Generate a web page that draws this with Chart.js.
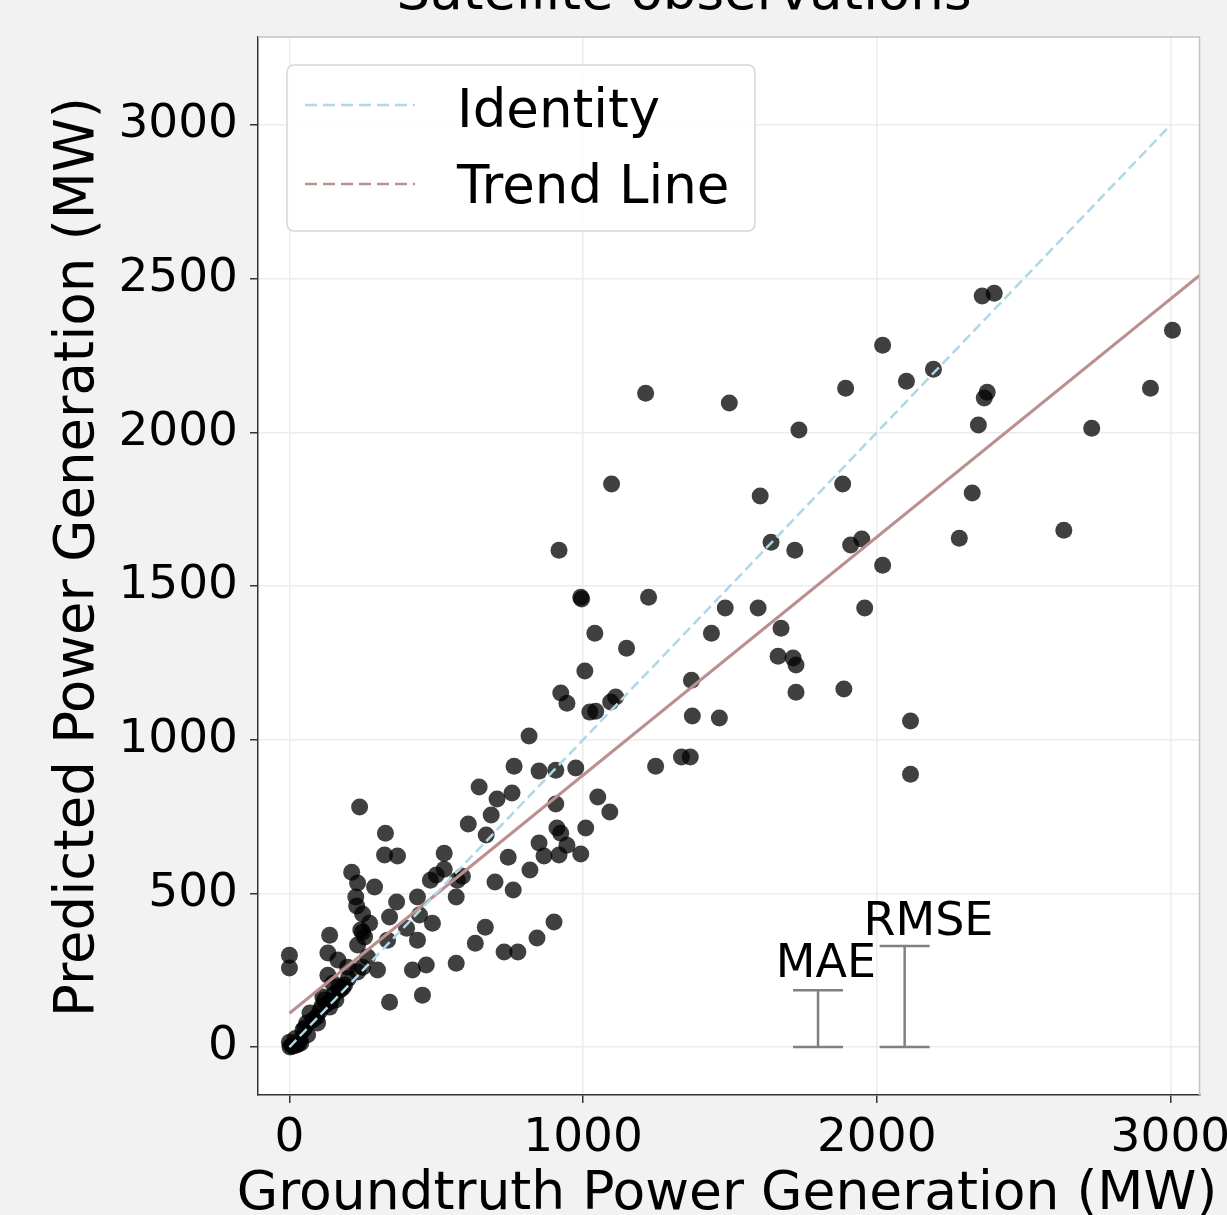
<!DOCTYPE html>
<html>
<head>
<meta charset="utf-8">
<script src="https://cdn.jsdelivr.net/npm/chart.js@4.4.1/dist/chart.umd.min.js"></script>
<style>
  html, body { margin: 0; padding: 0; background: #f2f2f2; }
</style>
</head>
<body>
<canvas id="scatterChart" width="1227" height="1215"></canvas>
<script>
// Groundtruth (x) vs predicted (y) power generation, MW
const groundtruth = [
  2359, 2400, 3007, 2020, 2193, 2101, 1894, 2932, 2376, 2366, 1213, 1498, 1735, 2346, 2732,
  1097, 1884, 1603, 2325, 2281, 2637, 1640, 1911, 1949, 1721, 918, 2020, 992, 995, 1223,
  1959, 1484, 1596, 1437, 1040, 1148, 1674, 1664, 1715, 1725, 1725, 1888, 1006, 1369, 924,
  945, 1023, 1043, 1094, 1111, 1372, 1464, 2115, 1335, 1365, 1247, 2115, 816, 765, 850,
  907, 975,
  646, 707, 758, 687, 670, 907, 1050, 1091, 1009, 911, 924, 850, 945, 609, 992, 918, 867,
  745, 527, 239, 327, 324, 368,
  212, 232, 290, 226, 229, 249, 365, 436, 500, 527, 568, 589, 487, 399, 334, 436, 249, 273,
  137, 131, 0, 0, 232, 249, 300, 419, 466, 568, 341, 453, 131, 148, 171, 114, 70, 93, 137,
  59, 46, 0, 2, 25, 12, 36, 700, 762, 819, 843, 901, 731, 778, 633, 667, 443, 341, 198, 165,
  181, 266, 232, 120, 39, 243, 256, 480, 572, 158, 188,
  20, 52, 80, 104, 128, 152, 62, 96, 168, 30, 8, 110, 142, 200
];
const predicted = [
  2444, 2453, 2333, 2284, 2206, 2167, 2144, 2144, 2131, 2112, 2128, 2096, 2008, 2024, 2014,
  1832, 1832, 1793, 1803, 1656, 1682, 1643, 1634, 1653, 1617, 1617, 1568, 1464, 1458, 1464,
  1429, 1429, 1429, 1347, 1347, 1298, 1363, 1272, 1266, 1243, 1155, 1165, 1224, 1194, 1152,
  1119, 1090, 1093, 1123, 1139, 1077, 1071, 1061, 944, 944, 914, 888, 1012, 914, 898,
  901, 908,
  846, 807, 827, 755, 690, 791, 814, 765, 713, 713, 696, 664, 657, 726, 628, 625, 622,
  618, 631, 781, 696, 625, 622,
  569, 534, 521, 488, 459, 433, 472, 488, 560, 579, 488, 556, 403, 387, 348, 348, 374, 403,
  364, 306, 299, 257, 332, 260, 251, 251, 267, 273, 146, 169, 234, 208, 185, 163, 111, 98, 130,
  78, 55, 16, 0, 7, 3, 23, 537, 511, 576, 355, 407, 309, 309, 338, 390, 430, 423, 260, 283,
  192, 293, 244, 153, 13, 381, 358, 543, 543, 153, 202,
  28, 62, 88, 118, 140, 172, 40, 78, 195, 10, 4, 132, 150, 222
];

// Reference lines (endpoints)
const identityX = [0, 3000];
const identityY = [0, 3000];
const trendX = [0, 3100];
const trendY = [110, 2512];

// Error bars: MAE and RMSE drawn from zero
const errorNames = ["MAE", "RMSE"];
const errorX = [1800, 2095];
const errorValues = [185, 329];
const errorLabelX = [1827, 2176];
const errorLabelY = [228, 364];

const xTicks = [0, 1000, 2000, 3000];
const yTicks = [0, 500, 1000, 1500, 2000, 2500, 3000];
const legendLabels = ["Identity", "Trend Line"];
const xTitle = "Groundtruth Power Generation (MW)";
const yTitle = "Predicted Power Generation (MW)";

const FONT = "'DejaVu Sans', sans-serif";
const toPoints = (xs, ys) => xs.map((x, i) => ({x: x, y: ys[i]}));

const background = {
  id: "background",
  beforeDraw(chart) {
    const {ctx, chartArea: a} = chart;
    ctx.save();
    ctx.fillStyle = "#f2f2f2";
    ctx.fillRect(0, 0, chart.width, chart.height);
    ctx.fillStyle = "#ffffff";
    ctx.fillRect(a.left, a.top, a.right - a.left, a.bottom - a.top);
    ctx.restore();
  }
};

const extras = {
  id: "extras",
  afterDraw(chart) {
    const {ctx, chartArea: a, scales} = chart;
    ctx.save();
    // top / right spines
    ctx.strokeStyle = "#c4c4c4";
    ctx.lineWidth = 1.5;
    ctx.beginPath();
    ctx.moveTo(a.left, a.top);
    ctx.lineTo(a.right, a.top);
    ctx.lineTo(a.right, a.bottom);
    ctx.stroke();

    // title, mostly cut off at the top
    ctx.fillStyle = "#000";
    ctx.font = "53px " + FONT;
    ctx.textAlign = "center";
    ctx.textBaseline = "alphabetic";
    ctx.fillText("Satellite observations", 684, 9);

    // axis titles (drawn here so they are not squeezed to the axis width)
    ctx.font = "53.5px " + FONT;
    ctx.fillText(xTitle, 727, 1209);
    ctx.save();
    ctx.translate(93, 557);
    ctx.rotate(-Math.PI / 2);
    ctx.font = "54.5px " + FONT;
    ctx.fillText(yTitle, 0, 0);
    ctx.restore();

    // MAE / RMSE labels
    ctx.font = "46px " + FONT;
    errorNames.forEach((name, i) => {
      ctx.fillText(name, scales.x.getPixelForValue(errorLabelX[i]), scales.y.getPixelForValue(errorLabelY[i]));
    });

    // legend
    const lx = a.left + 29, ly = a.top + 28, lw = 468, lh = 166;
    ctx.fillStyle = "rgba(255,255,255,0.85)";
    ctx.strokeStyle = "#d6d6d6";
    ctx.lineWidth = 1.5;
    ctx.beginPath();
    ctx.roundRect(lx, ly, lw, lh, 7);
    ctx.fill();
    ctx.stroke();
    const lineDs = [chart.data.datasets[1], chart.data.datasets[2]];
    const rowY = [40, 119];
    const textY = [62, 138];
    ctx.textAlign = "left";
    ctx.font = "53px " + FONT;
    lineDs.forEach((ds, i) => {
      ctx.strokeStyle = ds.borderColor;
      ctx.lineWidth = 2.5;
      ctx.setLineDash([12, 6]);
      ctx.beginPath();
      ctx.moveTo(lx + 18, ly + rowY[i]);
      ctx.lineTo(lx + 128, ly + rowY[i]);
      ctx.stroke();
      ctx.setLineDash([]);
      ctx.fillStyle = "#000";
      ctx.fillText(legendLabels[i], lx + 170, ly + textY[i]);
    });
    ctx.restore();
  }
};

const errorSets = errorNames.map((name, i) => ({
  label: name,
  data: [{x: errorX[i], y: 0}, {x: errorX[i], y: errorValues[i]}],
  showLine: true,
  borderColor: "#808080",
  borderWidth: 2.5,
  pointStyle: "line",
  pointRadius: 25,
  pointBorderWidth: 2.5,
  pointBorderColor: "#808080",
  order: 2
}));

const plainTick = (v) => String(v);

const ctx = document.getElementById("scatterChart").getContext("2d");
new Chart(ctx, {
  type: "scatter",
  data: {
    datasets: [
      {
        label: "Points",
        data: toPoints(groundtruth, predicted),
        backgroundColor: "rgba(0,0,0,0.75)",
        pointRadius: 8.5,
        pointBorderWidth: 0,
        order: 3
      },
      {
        label: legendLabels[0],
        data: toPoints(identityX, identityY),
        showLine: true,
        borderColor: "#add8e6",
        borderWidth: 2.5,
        borderDash: [10, 5],
        pointRadius: 0,
        order: 1
      },
      {
        label: legendLabels[1],
        data: toPoints(trendX, trendY),
        showLine: true,
        borderColor: "#bc8f8f",
        borderWidth: 3,
        pointRadius: 0,
        order: 1
      },
      ...errorSets
    ]
  },
  options: {
    responsive: false,
    animation: false,
    devicePixelRatio: 1,
    layout: { padding: { left: 0, top: 37, right: 24, bottom: 0 } },
    plugins: {
      legend: { display: false },
      tooltip: { enabled: false },
      title: { display: false }
    },
    scales: {
      x: {
        type: "linear",
        min: -107,
        max: 3099,
        afterBuildTicks: (scale) => { scale.ticks = xTicks.map(v => ({value: v})); },
        afterFit: (scale) => { scale.height = 120; scale.paddingLeft = 0; scale.paddingRight = 0; },
        ticks: { color: "#000", font: { family: FONT, size: 47 }, padding: 8, maxRotation: 0, callback: plainTick },
        grid: { color: "#ececec", lineWidth: 1.5, tickColor: "#333", tickLength: 8, tickWidth: 1.5 },
        border: { color: "#333", width: 1.5 },
        title: { display: false }
      },
      y: {
        type: "linear",
        min: -156,
        max: 3287,
        afterBuildTicks: (scale) => { scale.ticks = yTicks.map(v => ({value: v})); },
        afterFit: (scale) => { scale.width = 258; scale.paddingTop = 0; scale.paddingBottom = 0; },
        ticks: { color: "#000", font: { family: FONT, size: 47 }, padding: 12, callback: plainTick },
        grid: { color: "#ececec", lineWidth: 1.5, tickColor: "#333", tickLength: 8, tickWidth: 1.5 },
        border: { color: "#333", width: 1.5 },
        title: { display: false }
      }
    }
  },
  plugins: [background, extras]
});
</script>
</body>
</html>
